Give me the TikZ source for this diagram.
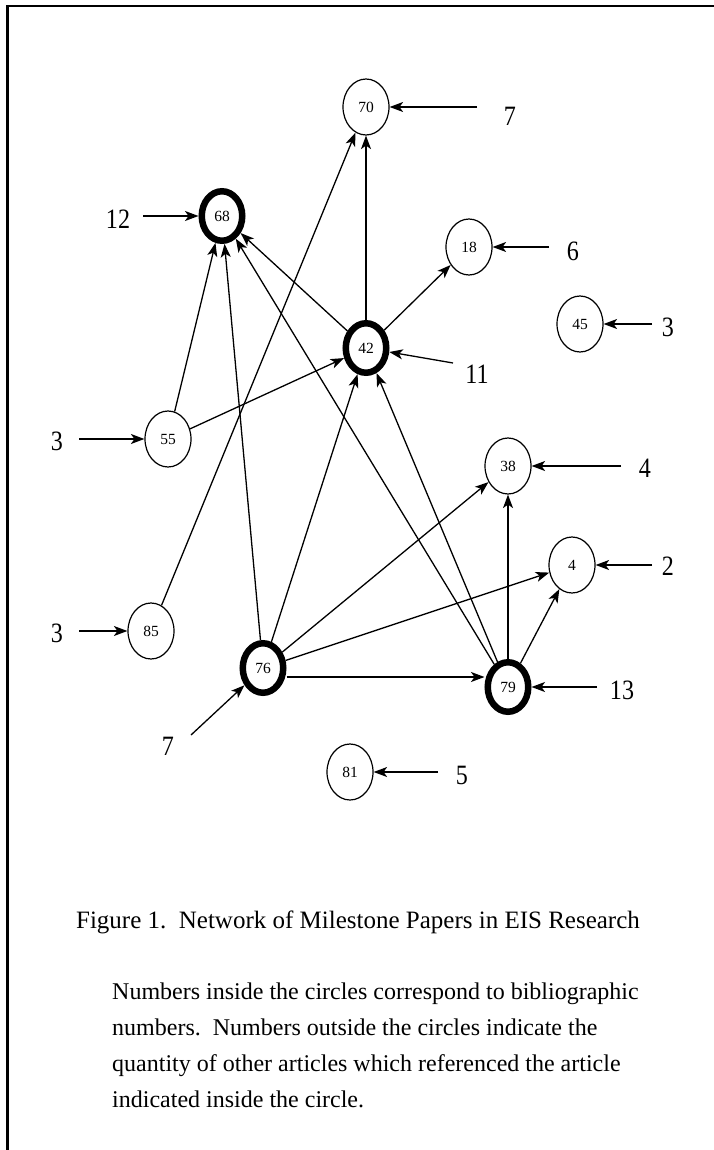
\documentclass[tikz,border=0pt]{standalone}
\usepackage{fontspec}
\setmainfont{Liberation Serif}
\usetikzlibrary{shapes.geometric,arrows.meta}

\newcommand{\narrow}[1]{\scalebox{0.86}[1]{#1}}

\tikzset{
  paper/.style={ellipse, draw, line width=1.2pt, minimum width=46pt, minimum height=56pt,
    inner sep=0pt, font=\fontsize{15.5}{15.5}\selectfont},
  milestone/.style={ellipse, draw, line width=6.5pt, minimum width=40.5pt, minimum height=49.5pt,
    inner sep=0pt, font=\fontsize{15.5}{15.5}\selectfont},
  cite/.style={line width=1.3pt, -{Stealth[length=13.5pt,width=10pt,inset=3.5pt]}},
  count/.style={font=\fontsize{28}{28}\selectfont, inner sep=0pt, anchor=center},
  para/.style={font=\fontsize{24}{24}\selectfont, inner sep=0pt, anchor=base west},
}

\begin{document}
\begin{tikzpicture}[x=1pt,y=-1pt]
\useasboundingbox (0,0) rectangle (714,1150);

% frame (top and left rules)
\draw[line width=2.6pt] (7.2,1150) -- (7.2,6.2) -- (714,6.2);

% papers
\node[paper]     (p70) at (366,107) {70};
\node[milestone] (p68) at (222,216) {68};
\node[paper]     (p18) at (469,247) {18};
\node[milestone] (p42) at (366,348) {42};
\node[paper]     (p45) at (580,324) {45};
\node[paper]     (p55) at (168,439) {55};
\node[paper]     (p38) at (508,466) {38};
\node[paper]     (p4)  at (572,565) {4};
\node[paper]     (p85) at (151,631) {85};
\node[milestone] (p76) at (263,668) {76};
\node[milestone] (p79) at (508,687) {79};
\node[paper]     (p81) at (350,772) {81};

% citations between papers
\draw[cite] (p42) -- (p70);
\draw[cite] (p42) -- (p68);
\draw[cite] (p42) -- (p18);
\draw[cite] (p55) -- (p68);
\draw[cite] (p55) -- (p42);
\draw[cite] (p85) -- (p70);
\draw[cite] (p76) -- (p68);
\draw[cite] (p76) -- (p42);
\draw[cite] (p76) -- (p38);
\draw[cite] (p76) -- (p4);
\draw[cite] (p76.east |- 0,677) -- (p79.west |- 0,677);
\draw[cite] (p79) -- (p68);
\draw[cite] (p79) -- (p42);
\draw[cite] (p79) -- (p38);
\draw[cite] (p79) -- (p4);

% citation counts
\coordinate (c70) at (477,107);
\coordinate (c68) at (143,216);
\coordinate (c18) at (549,247);
\coordinate (c45) at (652,324);
\coordinate (c42) at (453,363);
\coordinate (c55) at (79,439);
\coordinate (c38) at (621,466);
\coordinate (c4)  at (652,565);
\coordinate (c85) at (79,631);
\coordinate (c76) at (191,735);
\coordinate (c79) at (597,687);
\coordinate (c81) at (438,772);

\draw[cite] (c70) -- (p70);
\draw[cite] (c68) -- (p68);
\draw[cite] (c18) -- (p18);
\draw[cite] (c45) -- (p45);
\draw[cite] (c42) -- (p42);
\draw[cite] (c55) -- (p55);
\draw[cite] (c38) -- (p38);
\draw[cite] (c4)  -- (p4);
\draw[cite] (c85) -- (p85);
\draw[cite] (c76) -- (p76);
\draw[cite] (c79) -- (p79);
\draw[cite] (c81) -- (p81);

\node[count] (n70) at (510,116) {\narrow{7}};
\node[count] (n68) at (118,219) {\narrow{12}};
\node[count] (n18) at (573,251) {\narrow{6}};
\node[count] (n45) at (668,327) {\narrow{3}};
\node[count] (n42) at (477,374) {\narrow{11}};
\node[count] (n55) at (57,441) {\narrow{3}};
\node[count] (n38) at (645,468) {\narrow{4}};
\node[count] (n4)  at (668,566) {\narrow{2}};
\node[count] (n85) at (57,633) {\narrow{3}};
\node[count] (n76) at (168,746) {\narrow{7}};
\node[count] (n79) at (622,690) {\narrow{13}};
\node[count] (n81) at (462,775) {\narrow{5}};

% caption and note
\node[font=\fontsize{25}{25}\selectfont, inner sep=0pt, anchor=base] (caption) at (358,928)
  {Figure 1.\ \ Network of Milestone Papers in EIS Research};
\node[para] (l1) at (112,999)  {Numbers inside the circles correspond to bibliographic};
\node[para] (l2) at (112,1035) {numbers.\ \ Numbers outside the circles indicate the};
\node[para] (l3) at (112,1071) {quantity of other articles which referenced the article};
\node[para] (l4) at (112,1107) {indicated inside the circle.};
\end{tikzpicture}
\end{document}
